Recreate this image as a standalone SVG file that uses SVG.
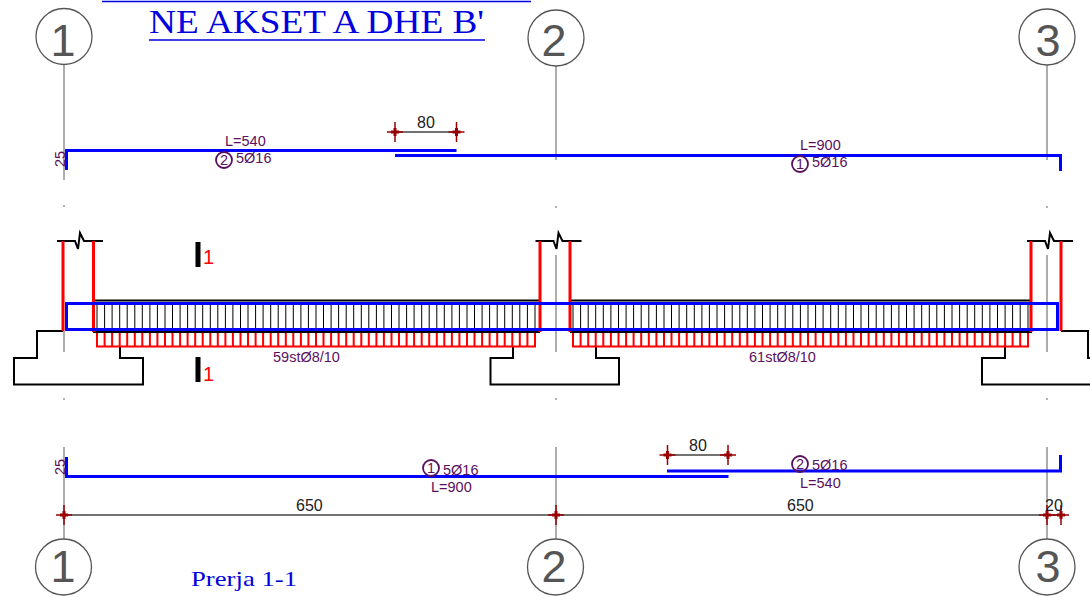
<svg xmlns="http://www.w3.org/2000/svg" xmlns:xlink="http://www.w3.org/1999/xlink" width="1090" height="597" viewBox="0 0 1090 597">
<style>
text{font-family:"Liberation Sans",Arial,sans-serif}
.t{font-family:"Liberation Serif","Times New Roman",serif;fill:#0000e0}
.p{fill:#5a1060;font-size:14.500px}
.d{fill:#222;font-size:16px}
.ax{fill:#555;font-size:45px;text-anchor:middle}
.sec{fill:#f00;font-size:20px}
.bl{fill:none;stroke:#00f;stroke-width:3}
.rd{fill:none;stroke:#f00;stroke-width:3}
.k{fill:none;stroke:#000;stroke-width:2}
.g{fill:none;stroke:#999;stroke-width:1.6}
.c{fill:#fff;stroke:#555;stroke-width:1.3}
.m{fill:none;stroke:#5a1060;stroke-width:1.8}
.dm{stroke:#444;stroke-width:1.3;fill:none}
.x{stroke:#900;stroke-width:1.500;fill:none}
.xc{stroke:#900;stroke-width:3;fill:none}
</style>
<defs>
<g id="tick"><path class="x" d="M-8 0H8M0-10V10"/><path class="xc" d="M-4 0H4M0-4V4"/></g>
<path id="brk" d="M0 0H18L21 8L23-8L27 0H46" class="k"/>
</defs>
<g id="axes">
<path class="g" d="M64 65V180M64 331V352M64 447V540M556 65V160M556 255V352M556 447V540M1047 65V160M1047 255V352M1047 447V540"/>
<path class="g" d="M63 206h2M63 399h2M555 207h2M555 399h2M1046 207h2M1046 399h2" stroke-width="1"/>
</g>
<g id="connectors">
<g id="footings">
<path class="k" d="M63 331H37V358H14V384.500H143V358H120V347"/>
<path class="k" d="M513 347V358H490.500V384.500H619V358H596V347"/>
<path class="k" d="M1005 347V358H982V384.500H1092M1061 331H1088V358H1092"/>
<use xlink:href="#brk" href="#brk" x="57" y="241"/>
<use xlink:href="#brk" href="#brk" x="535.500" y="241"/>
<use xlink:href="#brk" href="#brk" x="1027" y="241"/>
</g>
<g id="stirrups-1" stroke="#000" stroke-width="1">
<path d="M97 303V330M104.600 303V330M112.100 303V330M119.700 303V330M127.200 303V330M134.800 303V330M142.300 303V330M149.900 303V330M157.400 303V330M165 303V330M172.500 303V330M180.100 303V330M187.600 303V330M195.200 303V330M202.700 303V330M210.300 303V330M217.800 303V330M225.400 303V330M232.900 303V330M240.500 303V330M248 303V330M255.600 303V330M263.100 303V330M270.700 303V330M278.200 303V330M285.800 303V330M293.300 303V330M300.900 303V330M308.400 303V330M316 303V330M323.500 303V330M331.100 303V330M338.600 303V330M346.200 303V330M353.700 303V330M361.300 303V330M368.800 303V330M376.400 303V330M383.900 303V330M391.500 303V330M399 303V330M406.600 303V330M414.100 303V330M421.700 303V330M429.200 303V330M436.800 303V330M444.300 303V330M451.900 303V330M459.400 303V330M467 303V330M474.500 303V330M482.100 303V330M489.600 303V330M497.200 303V330M504.700 303V330M512.300 303V330M519.800 303V330M527.400 303V330M535 303V330"/>
<path stroke="#f00" stroke-width="2" fill="none" d="M97 332V346.500H535V332M104.600 332V346M112.100 332V346M119.700 332V346M127.200 332V346M134.800 332V346M142.300 332V346M149.900 332V346M157.400 332V346M165 332V346M172.500 332V346M180.100 332V346M187.600 332V346M195.200 332V346M202.700 332V346M210.300 332V346M217.800 332V346M225.400 332V346M232.900 332V346M240.500 332V346M248 332V346M255.600 332V346M263.100 332V346M270.700 332V346M278.200 332V346M285.800 332V346M293.300 332V346M300.900 332V346M308.400 332V346M316 332V346M323.500 332V346M331.100 332V346M338.600 332V346M346.200 332V346M353.700 332V346M361.300 332V346M368.800 332V346M376.400 332V346M383.900 332V346M391.500 332V346M399 332V346M406.600 332V346M414.100 332V346M421.700 332V346M429.200 332V346M436.800 332V346M444.300 332V346M451.900 332V346M459.400 332V346M467 332V346M474.500 332V346M482.100 332V346M489.600 332V346M497.200 332V346M504.700 332V346M512.300 332V346M519.800 332V346M527.400 332V346"/>
</g>
<g id="stirrups-2" stroke="#000" stroke-width="1">
<path d="M573 303V330M580.600 303V330M588.200 303V330M595.700 303V330M603.300 303V330M610.900 303V330M618.500 303V330M626.100 303V330M633.600 303V330M641.200 303V330M648.800 303V330M656.400 303V330M664 303V330M671.500 303V330M679.100 303V330M686.700 303V330M694.300 303V330M701.900 303V330M709.400 303V330M717 303V330M724.600 303V330M732.200 303V330M739.800 303V330M747.300 303V330M754.900 303V330M762.500 303V330M770.100 303V330M777.700 303V330M785.200 303V330M792.800 303V330M800.400 303V330M808 303V330M815.600 303V330M823.100 303V330M830.700 303V330M838.300 303V330M845.900 303V330M853.500 303V330M861 303V330M868.600 303V330M876.200 303V330M883.800 303V330M891.400 303V330M898.900 303V330M906.500 303V330M914.100 303V330M921.700 303V330M929.300 303V330M936.800 303V330M944.400 303V330M952 303V330M959.600 303V330M967.200 303V330M974.700 303V330M982.300 303V330M989.900 303V330M997.500 303V330M1005.100 303V330M1012.600 303V330M1020.200 303V330M1028 303V330"/>
<path stroke="#f00" stroke-width="2" fill="none" d="M573 332V346.500H1028V332M580.600 332V346M588.200 332V346M595.700 332V346M603.300 332V346M610.900 332V346M618.500 332V346M626.100 332V346M633.600 332V346M641.200 332V346M648.800 332V346M656.400 332V346M664 332V346M671.500 332V346M679.100 332V346M686.700 332V346M694.300 332V346M701.900 332V346M709.400 332V346M717 332V346M724.600 332V346M732.200 332V346M739.800 332V346M747.300 332V346M754.900 332V346M762.500 332V346M770.100 332V346M777.700 332V346M785.200 332V346M792.800 332V346M800.400 332V346M808 332V346M815.600 332V346M823.100 332V346M830.700 332V346M838.300 332V346M845.900 332V346M853.500 332V346M861 332V346M868.600 332V346M876.200 332V346M883.800 332V346M891.400 332V346M898.900 332V346M906.500 332V346M914.100 332V346M921.700 332V346M929.300 332V346M936.800 332V346M944.400 332V346M952 332V346M959.600 332V346M967.200 332V346M974.700 332V346M982.300 332V346M989.900 332V346M997.500 332V346M1005.100 332V346M1012.600 332V346M1020.200 332V346"/>
</g>
<path class="k" d="M93 300.500H540M570 300.500H1032M93 332H540M570 332H1032"/>
<path class="rd" d="M63 241V331M93.500 241V332M540 241V332M570 241V332M1031 241V332M1061 241V331"/>
<rect class="bl" x="66.500" y="303.500" width="991" height="26"/>
<g id="rebars">
<path class="bl" d="M66.500 170V150.500H456.500"/>
<path class="bl" d="M395 155.500H1060.500V171"/>
<path class="bl" d="M66.500 457V476.500H728.500"/>
<path class="bl" d="M667 471H1060.500V455"/>
</g>
<g id="dims">
<path class="dm" d="M395 132H457M667 455H728M64 515H1062"/>
<use xlink:href="#tick" href="#tick" x="395" y="132"/>
<use xlink:href="#tick" href="#tick" x="456.500" y="132"/>
<use xlink:href="#tick" href="#tick" x="667.500" y="455"/>
<use xlink:href="#tick" href="#tick" x="728" y="455"/>
<use xlink:href="#tick" href="#tick" x="64" y="515"/>
<use xlink:href="#tick" href="#tick" x="556" y="515"/>
<use xlink:href="#tick" href="#tick" x="1047" y="515"/>
<use xlink:href="#tick" href="#tick" x="1061" y="515"/>
</g>
<path d="M198 242V267M198 357V382" stroke="#000" stroke-width="5" fill="none"/>
</g>
<g id="grid-1-top"><circle class="c" cx="64" cy="36.500" r="28"/><text class="ax" x="63" y="56">1</text></g>
<g id="grid-2-top"><circle class="c" cx="556" cy="38" r="28"/><text class="ax" x="554" y="56">2</text></g>
<g id="grid-3-top"><circle class="c" cx="1047" cy="37" r="28"/><text class="ax" x="1048" y="56">3</text></g>
<g id="grid-1-bot"><circle class="c" cx="63.500" cy="567" r="28"/><text class="ax" x="63" y="582">1</text></g>
<g id="grid-2-bot"><circle class="c" cx="555.500" cy="567" r="28"/><text class="ax" x="554" y="582">2</text></g>
<g id="grid-3-bot"><circle class="c" cx="1047" cy="567" r="28"/><text class="ax" x="1048" y="582">3</text></g>
<g id="title">
<path d="M102 1.500H531M149 40H485" stroke="#0000e0" stroke-width="1.300" fill="none"/>
<text class="t" x="149" y="33" font-size="33" textLength="335" lengthAdjust="spacingAndGlyphs">NE AKSET A DHE B'</text>
<text class="t" x="191" y="586" font-size="22" textLength="106" lengthAdjust="spacingAndGlyphs">Prerja 1-1</text>
</g>
<g id="labels">
<text class="p" x="225" y="146">L=540</text>
<circle class="m" cx="224" cy="160" r="8"/><text class="p" x="224" y="165" text-anchor="middle">2</text>
<text class="p" x="236" y="163">5Ø16</text>
<text class="p" x="800" y="150">L=900</text>
<circle class="m" cx="800" cy="164" r="8"/><text class="p" x="800" y="169" text-anchor="middle">1</text>
<text class="p" x="812" y="167">5Ø16</text>
<circle class="m" cx="431" cy="468" r="8"/><text class="p" x="431" y="473" text-anchor="middle">1</text>
<text class="p" x="443" y="475">5Ø16</text>
<text class="p" x="431" y="492">L=900</text>
<circle class="m" cx="800" cy="464" r="8"/><text class="p" x="800" y="469" text-anchor="middle">2</text>
<text class="p" x="812" y="470">5Ø16</text>
<text class="p" x="800" y="488">L=540</text>
<text class="p" x="273" y="362">59stØ8/10</text>
<text class="p" x="749" y="362">61stØ8/10</text>
<text class="p" transform="translate(65 167) rotate(-90)">25</text>
<text class="p" transform="translate(65 475) rotate(-90)">25</text>
<text class="d" x="417" y="128">80</text>
<text class="d" x="689" y="451">80</text>
<text class="d" x="296" y="511">650</text>
<text class="d" x="787" y="511">650</text>
<text class="d" x="1045" y="511">20</text>
<text class="sec" x="203" y="264">1</text>
<text class="sec" x="203" y="381">1</text>
</g>
</svg>
